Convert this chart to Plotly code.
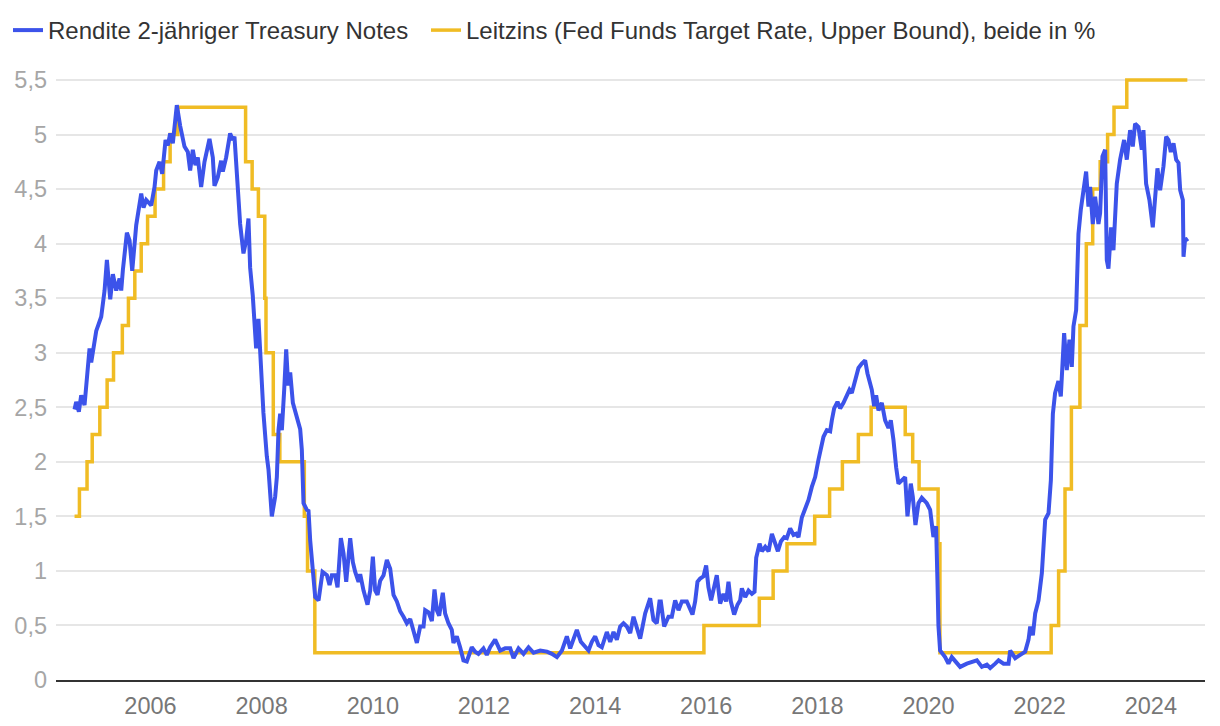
"""2-year Treasury yield vs. Fed Funds target rate (upper bound)"""
import pandas as pd
import plotly.graph_objects as go

# Fed Funds target rate (upper bound), value valid from the given date on
fed_dates = [
    "2004-08-20", "2004-09-21", "2004-11-10", "2004-12-14", "2005-02-02",
    "2005-03-22", "2005-05-03", "2005-06-30", "2005-08-09", "2005-09-20",
    "2005-11-01", "2005-12-13", "2006-01-31", "2006-03-28", "2006-05-10",
    "2006-06-29", "2007-09-18", "2007-10-31", "2007-12-11", "2008-01-22",
    "2008-01-30", "2008-03-18", "2008-04-30", "2008-10-08", "2008-10-29",
    "2008-12-16", "2015-12-17", "2016-12-15", "2017-03-16", "2017-06-15",
    "2017-12-14", "2018-03-22", "2018-06-14", "2018-09-27", "2018-12-20",
    "2019-08-01", "2019-09-19", "2019-10-31", "2020-03-04", "2020-03-16",
    "2022-03-17", "2022-05-05", "2022-06-16", "2022-07-28", "2022-09-22",
    "2022-11-03", "2022-12-15", "2023-02-02", "2023-03-23", "2023-05-04",
    "2023-07-27", "2024-08-28",
]
fed_rate = [
    1.50, 1.75, 2.00, 2.25, 2.50, 2.75, 3.00, 3.25, 3.50, 3.75,
    4.00, 4.25, 4.50, 4.75, 5.00, 5.25, 4.75, 4.50, 4.25, 3.50,
    3.00, 2.25, 2.00, 1.50, 1.00, 0.25, 0.50, 0.75, 1.00, 1.25,
    1.50, 1.75, 2.00, 2.25, 2.50, 2.25, 2.00, 1.75, 1.25, 0.25,
    0.50, 1.00, 1.75, 2.50, 3.25, 4.00, 4.50, 4.75, 5.00, 5.25,
    5.50, 5.50,
]

# 2-year Treasury yield (time as decimal year)
yield_t = [
    2004.633, 2004.663, 2004.711, 2004.753, 2004.813, 2004.903, 2004.933, 2005.023,
    2005.113, 2005.173, 2005.215, 2005.275, 2005.323, 2005.383, 2005.443, 2005.473,
    2005.503, 2005.575, 2005.623, 2005.671, 2005.743, 2005.773, 2005.833, 2005.875,
    2005.923, 2006.013, 2006.073, 2006.103, 2006.163, 2006.211, 2006.271, 2006.312,
    2006.355, 2006.402, 2006.474, 2006.534, 2006.612, 2006.672, 2006.714, 2006.762,
    2006.810, 2006.852, 2006.912, 2006.972, 2007.062, 2007.122, 2007.152, 2007.212,
    2007.272, 2007.302, 2007.362, 2007.434, 2007.482, 2007.512, 2007.572, 2007.614,
    2007.674, 2007.722, 2007.764, 2007.794, 2007.842, 2007.902, 2007.944, 2007.983,
    2008.033, 2008.094, 2008.124, 2008.184, 2008.244, 2008.274, 2008.304, 2008.334,
    2008.364, 2008.406, 2008.442, 2008.478, 2008.514, 2008.562, 2008.634, 2008.693,
    2008.723, 2008.753, 2008.813, 2008.843, 2008.873, 2008.933, 2008.963, 2009.023,
    2009.053, 2009.095, 2009.173, 2009.221, 2009.263, 2009.323, 2009.365, 2009.425,
    2009.473, 2009.521, 2009.593, 2009.641, 2009.683, 2009.743, 2009.773, 2009.833,
    2009.905, 2009.953, 2010.001, 2010.043, 2010.085, 2010.133, 2010.193, 2010.253,
    2010.313, 2010.373, 2010.433, 2010.493, 2010.553, 2010.613, 2010.673, 2010.733,
    2010.793, 2010.853, 2010.913, 2010.943, 2011.003, 2011.063, 2011.111, 2011.153,
    2011.195, 2011.260, 2011.302, 2011.362, 2011.422, 2011.452, 2011.512, 2011.572,
    2011.632, 2011.692, 2011.782, 2011.842, 2011.902, 2011.992, 2012.052, 2012.112,
    2012.202, 2012.292, 2012.382, 2012.472, 2012.532, 2012.622, 2012.712, 2012.802,
    2012.892, 2013.012, 2013.132, 2013.222, 2013.312, 2013.402, 2013.491, 2013.551,
    2013.671, 2013.743, 2013.821, 2013.881, 2013.941, 2014.001, 2014.061, 2014.121,
    2014.211, 2014.271, 2014.331, 2014.391, 2014.451, 2014.511, 2014.571, 2014.631,
    2014.691, 2014.751, 2014.811, 2014.901, 2014.991, 2015.051, 2015.111, 2015.159,
    2015.183, 2015.243, 2015.321, 2015.381, 2015.441, 2015.501, 2015.561, 2015.651,
    2015.699, 2015.753, 2015.801, 2015.843, 2015.891, 2015.951, 2015.999, 2016.040,
    2016.088, 2016.142, 2016.190, 2016.250, 2016.310, 2016.358, 2016.400, 2016.442,
    2016.502, 2016.562, 2016.610, 2016.640, 2016.700, 2016.760, 2016.820, 2016.868,
    2016.898, 2016.958, 2017.000, 2017.060, 2017.120, 2017.180, 2017.240, 2017.288,
    2017.342, 2017.402, 2017.449, 2017.509, 2017.569, 2017.617, 2017.659, 2017.719,
    2017.779, 2017.839, 2017.899, 2017.959, 2018.019, 2018.061, 2018.109, 2018.169,
    2018.229, 2018.259, 2018.301, 2018.361, 2018.409, 2018.469, 2018.529, 2018.577,
    2018.619, 2018.679, 2018.739, 2018.799, 2018.859, 2018.901, 2018.937, 2018.979,
    2019.021, 2019.057, 2019.099, 2019.159, 2019.219, 2019.279, 2019.321, 2019.369,
    2019.417, 2019.459, 2019.519, 2019.579, 2019.621, 2019.681, 2019.717, 2019.765,
    2019.819, 2019.879, 2019.969, 2020.029, 2020.088, 2020.136, 2020.160, 2020.178,
    2020.208, 2020.298, 2020.358, 2020.418, 2020.568, 2020.688, 2020.868, 2020.958,
    2021.048, 2021.108, 2021.198, 2021.258, 2021.348, 2021.438, 2021.468, 2021.558,
    2021.648, 2021.738, 2021.798, 2021.828, 2021.876, 2021.918, 2021.978, 2022.038,
    2022.098, 2022.158, 2022.200, 2022.236, 2022.276, 2022.336, 2022.379, 2022.439,
    2022.487, 2022.535, 2022.577, 2022.607, 2022.655, 2022.697, 2022.739, 2022.787,
    2022.835, 2022.877, 2022.907, 2022.955, 2022.997, 2023.057, 2023.087, 2023.129,
    2023.177, 2023.207, 2023.237, 2023.285, 2023.327, 2023.387, 2023.447, 2023.519,
    2023.567, 2023.627, 2023.675, 2023.717, 2023.777, 2023.837, 2023.867, 2023.915,
    2023.975, 2024.035, 2024.077, 2024.119, 2024.167, 2024.227, 2024.275, 2024.317,
    2024.359, 2024.407, 2024.455, 2024.497, 2024.527, 2024.575, 2024.587, 2024.617,
    2024.659,
]
yield_pct = [
    2.48, 2.55, 2.46, 2.61, 2.52, 3.04, 2.91, 3.20,
    3.33, 3.57, 3.85, 3.49, 3.72, 3.57, 3.68, 3.57,
    3.76, 4.10, 4.03, 3.75, 4.17, 4.26, 4.46, 4.33,
    4.40, 4.35, 4.52, 4.67, 4.75, 4.64, 4.95, 4.90,
    5.01, 4.92, 5.27, 5.08, 4.89, 4.84, 4.67, 4.86,
    4.72, 4.79, 4.52, 4.75, 4.96, 4.79, 4.53, 4.61,
    4.76, 4.66, 4.79, 5.01, 4.95, 4.98, 4.46, 4.18,
    3.91, 4.03, 4.23, 3.78, 3.52, 3.04, 3.31, 2.85,
    2.45, 2.05, 1.93, 1.50, 1.68, 1.86, 2.29, 2.44,
    2.29, 2.66, 3.03, 2.70, 2.82, 2.54, 2.39, 2.30,
    2.11, 1.62, 1.56, 1.55, 1.28, 0.95, 0.76, 0.73,
    0.82, 0.99, 0.96, 0.87, 0.96, 0.96, 0.85, 1.30,
    1.16, 0.90, 1.30, 1.08, 0.99, 0.90, 0.97, 0.82,
    0.69, 0.82, 1.13, 0.82, 0.78, 0.91, 0.96, 1.10,
    1.02, 0.78, 0.72, 0.63, 0.58, 0.52, 0.56, 0.44,
    0.34, 0.49, 0.49, 0.64, 0.62, 0.54, 0.83, 0.64,
    0.59, 0.80, 0.61, 0.52, 0.46, 0.34, 0.40, 0.30,
    0.18, 0.17, 0.30, 0.26, 0.24, 0.29, 0.23, 0.30,
    0.37, 0.27, 0.29, 0.29, 0.20, 0.29, 0.24, 0.30,
    0.25, 0.27, 0.26, 0.24, 0.21, 0.27, 0.40, 0.29,
    0.46, 0.35, 0.30, 0.27, 0.35, 0.40, 0.32, 0.30,
    0.44, 0.35, 0.44, 0.37, 0.49, 0.52, 0.49, 0.43,
    0.58, 0.47, 0.38, 0.61, 0.75, 0.55, 0.52, 0.72,
    0.72, 0.49, 0.58, 0.58, 0.73, 0.64, 0.72, 0.72,
    0.67, 0.60, 0.72, 0.90, 0.93, 0.95, 1.05, 0.85,
    0.73, 0.84, 0.96, 0.70, 0.79, 0.72, 0.90, 0.72,
    0.60, 0.69, 0.73, 0.84, 0.76, 0.82, 0.79, 0.81,
    1.12, 1.25, 1.18, 1.22, 1.18, 1.34, 1.25, 1.18,
    1.27, 1.31, 1.30, 1.39, 1.33, 1.34, 1.31, 1.49,
    1.57, 1.65, 1.77, 1.86, 2.02, 2.14, 2.23, 2.29,
    2.28, 2.38, 2.49, 2.55, 2.49, 2.54, 2.60, 2.66,
    2.63, 2.75, 2.86, 2.90, 2.93, 2.81, 2.73, 2.66,
    2.51, 2.61, 2.47, 2.54, 2.38, 2.31, 2.38, 2.20,
    1.95, 1.80, 1.83, 1.86, 1.50, 1.80, 1.68, 1.42,
    1.62, 1.67, 1.62, 1.56, 1.31, 1.41, 0.92, 0.50,
    0.27, 0.21, 0.15, 0.21, 0.12, 0.15, 0.18, 0.12,
    0.14, 0.11, 0.15, 0.18, 0.15, 0.15, 0.27, 0.20,
    0.23, 0.26, 0.37, 0.49, 0.41, 0.61, 0.73, 0.98,
    1.47, 1.53, 1.83, 2.44, 2.63, 2.74, 2.60, 3.18,
    2.84, 3.12, 2.87, 3.24, 3.39, 4.09, 4.31, 4.49,
    4.66, 4.34, 4.52, 4.18, 4.43, 4.18, 4.28, 4.80,
    4.86, 3.85, 3.77, 4.15, 3.94, 4.55, 4.77, 4.95,
    4.77, 5.04, 4.89, 5.10, 5.07, 4.86, 5.04, 4.55,
    4.40, 4.15, 4.40, 4.69, 4.49, 4.71, 4.98, 4.95,
    4.84, 4.92, 4.77, 4.74, 4.49, 4.40, 3.88, 4.05,
    4.02,
]

y_ticks = [0, 0.5, 1, 1.5, 2, 2.5, 3, 3.5, 4, 4.5, 5, 5.5]
y_ticktext = ["0", "0,5", "1", "1,5", "2", "2,5", "3", "3,5", "4", "4,5", "5", "5,5"]

BLUE = "#3c53ea"
YELLOW = "#f0bc24"
FONT = "Liberation Sans, Arial, sans-serif"


def to_timestamp(t):
    """Decimal year -> pandas Timestamp"""
    year = int(t)
    start = pd.Timestamp(year=year, month=1, day=1)
    end = pd.Timestamp(year=year + 1, month=1, day=1)
    return start + (end - start) * (t - year)


yield_dates = [to_timestamp(t) for t in yield_t]

fig = go.Figure()

fig.add_trace(
    go.Scatter(
        x=pd.to_datetime(fed_dates),
        y=fed_rate,
        mode="lines",
        line={"color": YELLOW, "width": 3.5, "shape": "hv"},
        name="Leitzins (Fed Funds Target Rate, Upper Bound), beide in %",
        legendrank=2,
    )
)
fig.add_trace(
    go.Scatter(
        x=yield_dates,
        y=yield_pct,
        mode="lines",
        line={"color": BLUE, "width": 4},
        name="Rendite 2-jähriger Treasury Notes",
        legendrank=1,
        legendwidth=373,
    )
)

fig.update_xaxes(
    type="date",
    range=["2004-04-20", "2024-12-22"],
    tick0="2006-01-01",
    dtick="M24",
    tickformat="%Y",
    showgrid=False,
    showline=True,
    linecolor="#333333",
    linewidth=2,
    ticks="",
    tickfont={"size": 23.5, "color": "#777777", "family": FONT},
    ticklabelstandoff=4,
    automargin=False,
)
fig.update_yaxes(
    range=[0, 5.555],
    tickvals=y_ticks,
    ticktext=y_ticktext,
    showgrid=True,
    gridcolor="#e6e6e6",
    gridwidth=2,
    zeroline=False,
    showline=False,
    ticks="",
    tickfont={"size": 23.5, "color": "#a6a6a6", "family": FONT},
    ticklabelstandoff=8,
    automargin=False,
)
# the page body has an 8px margin, so the figure is 8px smaller than the window
fig.update_layout(
    width=1212,
    height=718,
    margin={"l": 48, "r": 15, "t": 66, "b": 46},
    plot_bgcolor="white",
    paper_bgcolor="white",
    font={"family": FONT, "color": "#333333"},
    showlegend=True,
    legend={
        "orientation": "h",
        "xref": "container",
        "yref": "container",
        "x": 0,
        "y": 1,
        "xanchor": "left",
        "yanchor": "top",
        "font": {"size": 24, "color": "#333333", "family": FONT},
        "bgcolor": "rgba(0,0,0,0)",
    },
    hovermode="x unified",
)

fig.write_html("out.html")
